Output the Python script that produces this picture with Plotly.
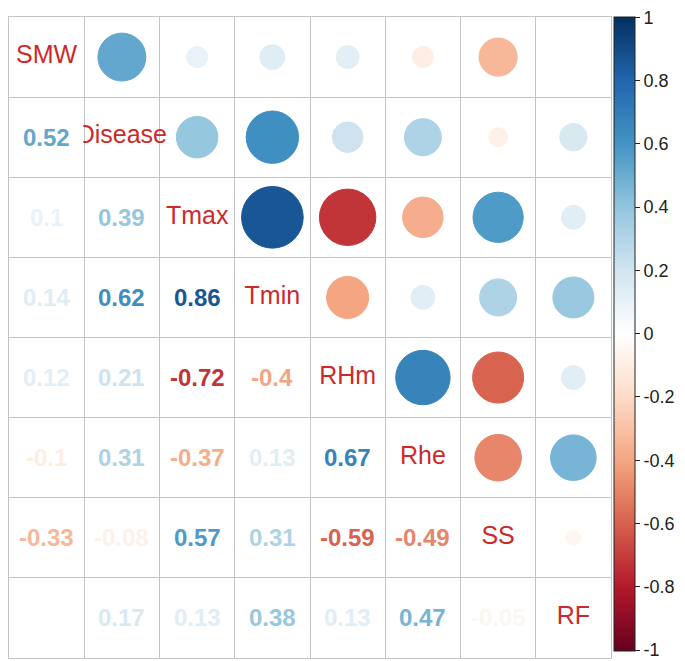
import plotly.graph_objects as go
import numpy as np

labels = ["SMW", "Disease", "Tmax", "Tmin", "RHm", "Rhe", "SS", "RF"]

# lower-triangle correlations (row i vs. columns 0..i-1)
r_Disease = [0.52]
r_Tmax = [0.10, 0.39]
r_Tmin = [0.14, 0.62, 0.86]
r_RHm = [0.12, 0.21, -0.72, -0.40]
r_Rhe = [-0.10, 0.31, -0.37, 0.13, 0.67]
r_SS = [-0.33, -0.08, 0.57, 0.31, -0.59, -0.49]
r_RF = [None, 0.17, 0.13, 0.38, 0.13, 0.47, -0.05]
lower_rows = [[], r_Disease, r_Tmax, r_Tmin, r_RHm, r_Rhe, r_SS, r_RF]

cbar_ticks = [1, 0.8, 0.6, 0.4, 0.2, 0, -0.2, -0.4, -0.6, -0.8, -1]

palette = ["#67001F", "#B2182B", "#D6604D", "#F4A582", "#FDDBC7", "#FFFFFF",
           "#D1E5F0", "#92C5DE", "#4393C3", "#2166AC", "#053061"]
colorscale = [[i / 10, c] for i, c in enumerate(palette)]


def hex2rgb(h):
    return tuple(int(h[k:k + 2], 16) for k in (1, 3, 5))


def val_color(v):
    t = (v + 1) / 2 * 10
    i = min(int(np.floor(t)), 9)
    f = t - i
    a, b = hex2rgb(palette[i]), hex2rgb(palette[i + 1])
    c = [round(a[k] + (b[k] - a[k]) * f) for k in range(3)]
    return f"rgb({c[0]},{c[1]},{c[2]})"


n = len(labels)
M = [[None] * n for _ in range(n)]
for i, row in enumerate(lower_rows):
    for j, v in enumerate(row):
        M[i][j] = v
        M[j][i] = v

# upper triangle circles
cx, cy, cv, cs = [], [], [], []
for i in range(n):
    for j in range(i + 1, n):
        v = M[i][j]
        if v is None:
            continue
        cx.append(j + 1)
        cy.append(i + 1)
        cv.append(v)
        cs.append(66.5 * np.sqrt(abs(v)))

fig = go.Figure()
fig.add_trace(go.Scatter(
    x=cx, y=cy, mode="markers",
    marker=dict(size=cs, color=cv, colorscale=colorscale, cmin=-1.002, cmax=1.002,
                opacity=1,
                line=dict(width=1, color=[val_color(v) for v in cv]),
                showscale=True,
                colorbar=dict(
                    thickness=21, lenmode="pixels", len=634,
                    x=1.005, xanchor="left", xpad=0,
                    y=0.506, yanchor="middle", ypad=0,
                    outlinewidth=1, outlinecolor="#222",
                    tickvals=cbar_ticks,
                    ticktext=[f"{t:g}" for t in cbar_ticks],
                    ticks="outside", ticklen=5, tickcolor="#222",
                    ticklabeloverflow="allow",
                    tickfont=dict(family="Liberation Sans, Arial", size=18, color="#222"),
                )),
    hoverinfo="skip", showlegend=False,
))

# diagonal labels
fig.add_trace(go.Scatter(
    x=list(range(1, n + 1)), y=list(range(1, n + 1)), mode="text",
    text=labels,
    textfont=dict(family="Liberation Sans, Arial", size=25, color="#CC2A2A"),
    hoverinfo="skip", showlegend=False,
))

# white cell covering overflow of long diagonal labels into the lower triangle
shapes = []
for i in range(1, n):
    j = i - 1
    shapes.append(dict(type="rect", xref="x", yref="y", layer="above",
                       x0=j + 0.5 + 0.012, x1=j + 1.5 - 0.012,
                       y0=i + 0.5 + 0.015, y1=i + 1.5 - 0.015,
                       fillcolor="white", line=dict(width=0)))

annotations = []
for i in range(n):
    for j in range(i):
        v = M[i][j]
        if v is None:
            continue
        annotations.append(dict(
            x=j + 1, y=i + 1, xref="x", yref="y", showarrow=False,
            text=f"<b>{v:g}</b>",
            font=dict(family="Liberation Sans, Arial", size=24, color=val_color(v)),
        ))

grid_vals = [k + 0.5 for k in range(n + 1)]
axis_common = dict(
    tickvals=grid_vals, showticklabels=False, ticks="",
    showgrid=True, gridcolor="#C4C4C4", gridwidth=1, zeroline=False,
    showline=True, linecolor="#C4C4C4", linewidth=1, mirror=True,
    fixedrange=True,
)
fig.update_xaxes(range=[0.5, n + 0.5], **axis_common)
fig.update_yaxes(range=[n + 0.5, 0.5], **axis_common)

fig.update_layout(
    width=685, height=661,
    margin=dict(l=1, r=82, t=9, b=11),
    plot_bgcolor="white", paper_bgcolor="white",
    shapes=shapes, annotations=annotations,
)

fig.write_html("out.html")
